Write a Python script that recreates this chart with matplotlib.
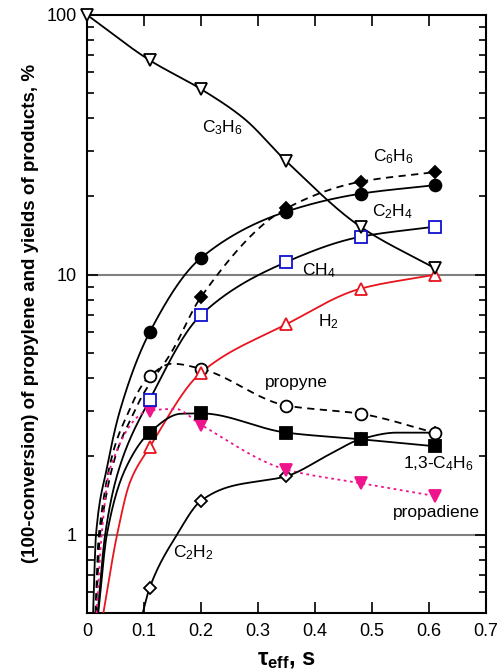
import numpy as np
import matplotlib.pyplot as plt
from matplotlib.ticker import FixedLocator, FixedFormatter, LogLocator, NullFormatter

plt.rcParams['font.family'] = ['Liberation Sans', 'DejaVu Sans']
plt.rcParams['mathtext.fontset'] = 'custom'
plt.rcParams['mathtext.rm'] = 'Liberation Sans'
plt.rcParams['mathtext.it'] = 'Liberation Sans:italic'
plt.rcParams['mathtext.bf'] = 'Liberation Sans:bold'

# residence times of the measured points, s
t = [0.11, 0.2, 0.35, 0.48, 0.61]

# measured values, %
c3h6_t = [0.0, 0.11, 0.2, 0.35, 0.48, 0.61]
c3h6 = [100, 66.9, 51.8, 27.3, 15.3, 10.6]
c6h6_t = [0.2, 0.35, 0.48, 0.61]
c6h6 = [8.2, 18.0, 22.8, 24.8]
c2h4 = [6.0, 11.6, 17.5, 20.5, 22.1]
ch4 = [3.3, 7.0, 11.2, 14.0, 15.3]
h2 = [2.17, 4.2, 6.45, 8.84, 10.0]
propyne = [4.07, 4.35, 3.14, 2.92, 2.47]
c4h6 = [2.47, 2.93, 2.47, 2.33, 2.19]
propadiene = [3.0, 2.65, 1.78, 1.58, 1.41]
c2h2 = [0.624, 1.35, 1.68, 2.33, 2.47]

# extra points (lead-in from the origin, peaks)
c3h6_curve = ([0.275], [40.0])
c6h6_curve = ([0.016, 0.023, 0.084, 0.151], [0.5, 1.0, 3.0, 5.15])
c2h4_curve = ([0.011, 0.016, 0.035, 0.058], [0.5, 1.0, 1.8, 3.0])
ch4_curve = ([0.019, 0.032, 0.056], [0.5, 1.0, 1.78])
h2_curve = ([0.029, 0.053, 0.076], [0.5, 1.0, 1.6])
propyne_curve = ([0.015, 0.021, 0.074, 0.15], [0.5, 1.0, 3.0, 4.55])
c4h6_curve = ([0.02, 0.035, 0.067, 0.165], [0.5, 1.0, 1.78, 2.92])
propadiene_curve = ([0.017, 0.026, 0.04, 0.155], [0.5, 1.0, 1.78, 3.05])
c2h2_curve = ([0.098, 0.158, 0.25, 0.426, 0.543], [0.5, 1.0, 1.53, 2.04, 2.47])


def pchip(x, y, xn):
    x = np.asarray(x, float)
    y = np.asarray(y, float)
    h = np.diff(x)
    d = np.diff(y) / h
    m = np.zeros_like(y)
    m[0], m[-1] = d[0], d[-1]
    for k in range(1, len(x) - 1):
        if d[k - 1] * d[k] > 0:
            w1 = 2 * h[k] + h[k - 1]
            w2 = h[k] + 2 * h[k - 1]
            m[k] = (w1 + w2) / (w1 / d[k - 1] + w2 / d[k])
    i = np.clip(np.searchsorted(x, xn) - 1, 0, len(x) - 2)
    s = (xn - x[i]) / h[i]
    h00 = 2 * s**3 - 3 * s**2 + 1
    h10 = s**3 - 2 * s**2 + s
    h01 = -2 * s**3 + 3 * s**2
    h11 = s**3 - s**2
    return h00 * y[i] + h10 * h[i] * m[i] + h01 * y[i + 1] + h11 * h[i] * m[i + 1]


def smooth(xs, ys, extra):
    px = list(xs) + list(extra[0])
    py = list(ys) + list(extra[1])
    order = np.argsort(px)
    px = np.array(px)[order]
    py = np.log10(np.array(py)[order])
    xn = np.linspace(px[0], px[-1], 400)
    return xn, 10 ** pchip(px, py, xn)


fig = plt.figure(figsize=(5.02, 6.71), dpi=100)
ax = fig.add_axes([0.173, 0.0864, 0.795, 0.8916])

magenta = '#f0148c'
red = '#e8141e'
blue = '#1010d0'

series = [
    (c3h6_t, c3h6, c3h6_curve, 'k', '-', 'v', 'white', 'k', 9),
    (c6h6_t, c6h6, c6h6_curve, 'k', (0, (4, 3)), 'D', 'k', 'k', 6),
    (t, c2h4, c2h4_curve, 'k', '-', 'o', 'k', 'k', 8.5),
    (t, ch4, ch4_curve, 'k', '-', 's', 'white', blue, 8.5),
    (t, h2, h2_curve, red, '-', '^', 'white', red, 9),
    (t, propyne, propyne_curve, 'k', (0, (4, 3)), 'o', 'white', 'k', 8.5),
    (t, c4h6, c4h6_curve, 'k', '-', 's', 'k', 'k', 9),
    (t, propadiene, propadiene_curve, magenta, (0, (1.5, 2)), 'v', magenta, magenta, 8.5),
    (t, c2h2, c2h2_curve, 'k', '-', 'D', 'white', 'k', 6),
]

for xs, ys, extra, lc, ls, mk, mfc, mec, ms in series:
    xn, yn = smooth(xs, ys, extra)
    ax.plot(xn, yn, color=lc, ls=ls, lw=1.3, zorder=3)

zm = 5
for xs, ys, extra, lc, ls, mk, mfc, mec, ms in reversed(series):
    ax.plot(xs, ys, ls='none', marker=mk, ms=ms, mfc=mfc, mec=mec, mew=1.3,
            zorder=zm, clip_on=False)
    zm += 1

ax.axhline(1, color='#808080', lw=1.5, zorder=1)
ax.axhline(10, color='#808080', lw=1.5, zorder=1)

ax.set_yscale('log')
ax.set_xlim(0, 0.7)
ax.set_ylim(0.5, 100)
ax.set_xticks(np.arange(0, 0.71, 0.1))
ax.set_xticklabels(['0', '0.1', '0.2', '0.3', '0.4', '0.5', '0.6', '0.7'])
ax.yaxis.set_major_locator(FixedLocator([1, 10, 100]))
ax.yaxis.set_major_formatter(FixedFormatter(['1', '10', '100']))
ax.yaxis.set_minor_locator(LogLocator(base=10, subs=np.arange(2, 10)))
ax.yaxis.set_minor_formatter(NullFormatter())
ax.tick_params(which='both', direction='in', top=True, right=True, width=1.2,
               labelsize=13)
ax.tick_params(which='major', length=8, pad=7)
ax.tick_params(which='minor', length=5)
for sp in ax.spines.values():
    sp.set_linewidth(1.5)

lab = dict(fontsize=12.5, ha='center', va='center', zorder=10)
ax.text(0.237, 36.7, 'C$_3$H$_6$', **lab)
ax.text(0.537, 28.4, 'C$_6$H$_6$', **lab)
ax.text(0.537, 17.5, 'C$_2$H$_4$', **lab)
ax.text(0.407, 10.4, 'CH$_4$', **lab)
ax.text(0.423, 6.6, 'H$_2$', **lab)
ax.text(0.368, 3.85, 'propyne', **lab)
ax.text(0.616, 1.87, '1,3-C$_4$H$_6$', **lab)
ax.text(0.614, 1.22, 'propadiene', **lab)
ax.text(0.186, 0.857, 'C$_2$H$_2$', **lab)

ax.set_xlabel(r'$\mathbf{\tau_{eff}}$, s', fontsize=17, fontweight='bold', labelpad=6)
ax.set_ylabel('(100-conversion) of propylene and yields of products, %',
              fontsize=13.5, fontweight='bold', labelpad=6)

fig.savefig('out.png', dpi=100)
